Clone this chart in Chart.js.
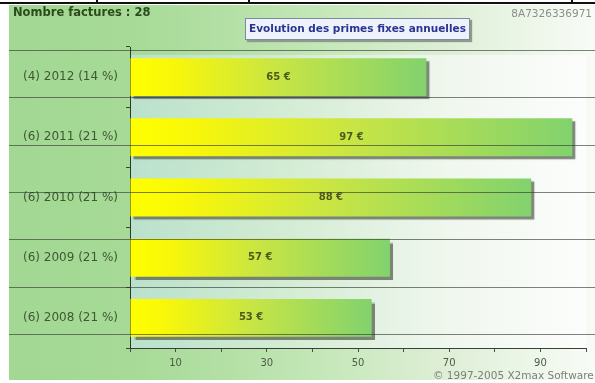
<!DOCTYPE html>
<html>
<head>
<meta charset="utf-8">
<script src="https://cdn.jsdelivr.net/npm/chart.js@4/dist/chart.umd.min.js"></script>
<style>
  html, body { margin: 0; padding: 0; background: #ffffff; }
  #wrap { position: relative; width: 595px; height: 383px; overflow: hidden; font-family: "DejaVu Sans", sans-serif; }
  #bg { position: absolute; left: 9px; top: 5px; width: 586px; height: 375px;
        background: linear-gradient(to right, #a2d893 0px, #a6da96 120px, #b4e0a6 220px, #c6e8ba 320px, #ddeed4 430px, #f0f8ed 540px, #f8fbf6 586px); }
  #c { position: absolute; left: 0; top: 0; }
  .txt { position: absolute; white-space: nowrap; line-height: 1; }
  #nb { left: 13px; top: 7px; font-size: 11.5px; font-weight: bold; color: #2b4a1d; }
  #titlebox { position: absolute; left: 245px; top: 18px; width: 223px; height: 20px; background: #eef2fa;
              border: 1px solid #7d8aa6; box-shadow: 2px 2px 1px #8c9c88; }
  #title { left: 0; width: 223px; top: 4px; text-align: center; font-size: 10.5px; font-weight: bold; color: #2a3592; }
  #code { right: 3px; top: 8px; font-size: 10.5px; color: #8a8e8a; }
  #copy { left: 433px; top: 370px; font-size: 10.5px; color: #7a807a; }
  .hl { position: absolute; left: 9px; width: 586px; height: 1px; background: rgba(45,55,45,0.62); }
  #topline { position: absolute; left: 0; top: 2px; width: 595px; height: 2px; background: #111; }
  .vs { position: absolute; top: 0; width: 2px; height: 3px; background: #111; }
</style>
</head>
<body>
<div id="wrap">
  <div id="bg"></div>
  <canvas id="c" width="595" height="383"></canvas>
  <div class="txt" id="nb">Nombre factures : 28</div>
  <div id="titlebox"><div class="txt" id="title">Evolution des primes fixes annuelles</div></div>
  <div class="txt" id="code">8A7326336971</div>
  <div class="txt" id="copy">© 1997-2005 X2max Software</div>
  <div id="topline"></div>
  <div class="vs" style="left:96px"></div>
  <div class="vs" style="left:248px"></div>
  <div class="vs" style="left:571px"></div>
  <div class="hl" style="top:50px"></div>
  <div class="hl" style="top:97px"></div>
  <div class="hl" style="top:145px"></div>
  <div class="hl" style="top:192px"></div>
  <div class="hl" style="top:239px"></div>
  <div class="hl" style="top:287px"></div>
  <div class="hl" style="top:334px"></div>
</div>
<script>
// ---- data ----
const categories = ['(4) 2012 (14 %)', '(6) 2011 (21 %)', '(6) 2010 (21 %)', '(6) 2009 (21 %)', '(6) 2008 (21 %)'];
const values = [65, 97, 88, 57, 53];
const valueLabels = ['65 €', '97 €', '88 €', '57 €', '53 €'];
const xLabeledTicks = [10, 30, 50, 70, 90];
const xMin = 0, xMax = 100, xStep = 10;

const FONT = '"DejaVu Sans", sans-serif';

function barGradient(context) {
  const chart = context.chart;
  const { ctx, chartArea, scales } = chart;
  if (!chartArea || !scales.x) return '#d0e850';
  const v = context.raw;
  const x0 = scales.x.getPixelForValue(0);
  const x1 = scales.x.getPixelForValue(v);
  const g = ctx.createLinearGradient(x0, 0, x1, 0);
  g.addColorStop(0, '#ffff00');
  g.addColorStop(0.15, '#f8f70a');
  g.addColorStop(0.5, '#c8e544');
  g.addColorStop(1, '#82d26e');
  return g;
}

const decor = {
  id: 'decor',
  beforeDraw(chart) {
    const { ctx, chartArea: a } = chart;
    ctx.save();
    const g = ctx.createLinearGradient(a.left, 0, a.right, 0);
    g.addColorStop(0, 'rgba(186,225,204,1)');
    g.addColorStop(0.35, 'rgba(212,236,212,1)');
    g.addColorStop(0.7, 'rgba(240,247,238,1)');
    g.addColorStop(1, 'rgba(252,253,252,1)');
    ctx.fillStyle = g;
    ctx.fillRect(a.left, a.top + 8, a.right - a.left, a.bottom - a.top - 8);
    ctx.restore();
  },
  beforeDatasetsDraw(chart) {
    const ctx = chart.ctx;
    ctx.save();
    ctx.shadowColor = 'rgba(95,105,90,0.8)';
    ctx.shadowOffsetX = 3;
    ctx.shadowOffsetY = 3;
    ctx.shadowBlur = 1;
  },
  afterDatasetsDraw(chart) {
    const ctx = chart.ctx;
    ctx.restore();
    ctx.save();
    ctx.font = 'bold 10px ' + FONT;
    ctx.fillStyle = '#4c5a1c';
    ctx.textAlign = 'center';
    ctx.textBaseline = 'middle';
    const meta = chart.getDatasetMeta(0);
    meta.data.forEach((bar, i) => {
      ctx.fillText(valueLabels[i], (bar.base + bar.x) / 2, bar.y);
    });
    ctx.restore();
  }
};

new Chart(document.getElementById('c'), {
  type: 'bar',
  data: {
    labels: categories,
    datasets: [{
      data: values,
      backgroundColor: barGradient,
      borderWidth: 0,
      barPercentage: 0.63,
      categoryPercentage: 1.0
    }]
  },
  options: {
    indexAxis: 'y',
    responsive: false,
    animation: false,
    layout: { padding: { left: 0, top: 47, right: 9, bottom: 0 } },
    plugins: { legend: { display: false }, tooltip: { enabled: false } },
    scales: {
      x: {
        min: xMin, max: xMax,
        border: { display: true, color: '#3a3f38', width: 1 },
        grid: { drawOnChartArea: false, drawTicks: true, tickLength: 4, color: '#4a4f48' },
        ticks: {
          stepSize: xStep, autoSkip: false, maxRotation: 0, padding: 5,
          color: '#4d5a45', font: { family: FONT, size: 10 },
          callback: (v) => xLabeledTicks.includes(v) ? String(v) : ''
        },
        afterFit: (s) => { s.height = 35; }
      },
      y: {
        border: { display: true, color: '#2f3a2c', width: 1 },
        grid: { drawOnChartArea: false, drawTicks: true, tickLength: 4, color: '#3a4536', offset: true },
        ticks: { padding: 8, color: '#3e5832', font: { family: FONT, size: 12 } },
        afterFit: (s) => { s.width = 130; }
      }
    }
  },
  plugins: [decor]
});
</script>
</body>
</html>
